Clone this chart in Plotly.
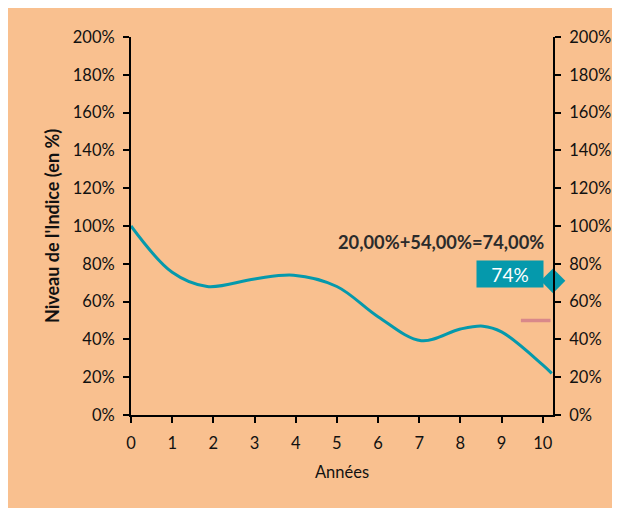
import plotly.graph_objects as go

# Data
years = [0, 1, 1.85, 3, 3.95, 5, 6, 7.05, 8, 8.55, 9, 10, 10.22]
index_level = [100, 75.5, 68, 72, 74, 68, 52, 39.3, 45.5, 47, 44, 26.5, 22]
final_x = [10.25]
final_level = [71]
barrier_x = [9.47, 10.19]
barrier_level = [50, 50]
formula_text = "20,00%+54,00%=74,00%"
final_label = "74%"
x_ticks = list(range(0, 11))
y_ticks = list(range(0, 201, 20))

TEAL = "#0599AC"
PEACH = "#F9C08F"
FONT = "Lato"

W, H = 620, 508
L, R, T, B = 123, 75, 29, 101

fig = go.Figure()

fig.add_trace(go.Scatter(
    x=years, y=index_level, mode="lines",
    line=dict(color=TEAL, width=3, shape="spline", smoothing=1.0),
    showlegend=False, hoverinfo="skip"))

fig.add_trace(go.Scatter(
    x=barrier_x, y=barrier_level, mode="lines",
    line=dict(color="#D9888A", width=3.5),
    showlegend=False, hoverinfo="skip"))

fig.add_trace(go.Scatter(
    x=final_x, y=final_level, mode="markers",
    marker=dict(symbol="diamond", size=19, color=TEAL),
    showlegend=False, hoverinfo="skip", cliponaxis=False))

# secondary axis dummy trace
fig.add_trace(go.Scatter(x=[0], y=[0], yaxis="y2", mode="markers",
                         marker=dict(opacity=0), showlegend=False, hoverinfo="skip"))

fig.add_annotation(x=10.07, y=91.5, xref="x", yref="y", text="<b>" + formula_text + "</b>",
                   showarrow=False, xanchor="right", yanchor="middle",
                   font=dict(family=FONT, size=18.3, color="#2B2B2B"))

fig.add_annotation(x=9.2, y=74.5, xref="x", yref="y", text=final_label,
                   showarrow=False, xanchor="center", yanchor="middle",
                   bgcolor=TEAL, width=64, height=24,
                   font=dict(family=FONT, size=19, color="white"))

tick_font = dict(family=FONT, size=16.5, color="#111111")

fig.update_layout(
    width=W, height=H,
    margin=dict(l=L, r=R, t=T, b=B),
    paper_bgcolor=PEACH,
    plot_bgcolor=PEACH,
    font=dict(family=FONT),
    xaxis=dict(range=[0, 10.25], tickvals=x_ticks, ticktext=[str(t) for t in x_ticks],
               showgrid=False, zeroline=False, showline=True, linecolor="black",
               linewidth=2, ticks="outside", ticklen=6, tickwidth=2, tickcolor="black",
               tickfont=tick_font, ticklabelstandoff=6,
               title=dict(text="Années", font=dict(family=FONT, size=16.5, color="#111111"),
                          standoff=15)),
    yaxis=dict(range=[0, 200], tickvals=y_ticks, ticktext=[f"{t}%" for t in y_ticks],
               showgrid=False, zeroline=False, showline=True, linecolor="black",
               linewidth=2, ticks="outside", ticklen=6, tickwidth=2, tickcolor="black",
               tickfont=tick_font, ticklabelstandoff=5,
               title=dict(text="<b>Niveau de l'Indice (en %)</b>",
                          font=dict(family=FONT, size=18, color="#111111"), standoff=8)),
    yaxis2=dict(range=[0, 200], tickvals=y_ticks, ticktext=[f"{t}%" for t in y_ticks],
                overlaying="y", side="right", anchor="x",
                showgrid=False, zeroline=False, showline=True, linecolor="black",
                linewidth=2, ticks="outside", ticklen=6, tickwidth=2, tickcolor="black",
                tickfont=tick_font, ticklabelstandoff=5),
)

fig.write_html("out.html")
